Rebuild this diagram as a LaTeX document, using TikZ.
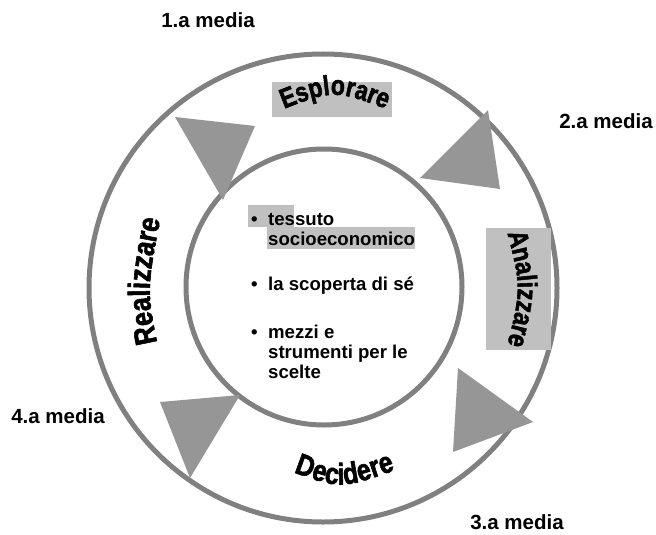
\documentclass[tikz,border=0pt]{standalone}
\usepackage{fontspec}
\setmainfont{Liberation Sans}
\newfontfamily\wafont[BoldFeatures={FakeBold=2}]{Liberation Sans}
\usetikzlibrary{decorations.text}
\definecolor{ringgray}{HTML}{808080}
\definecolor{trigray}{HTML}{969696}
\definecolor{boxgray}{HTML}{C0C0C0}
\begin{document}
\begin{tikzpicture}[x=1pt,y=-1pt,
  ring/.style={draw=ringgray, line width=5pt},
  tri/.style={fill=trigray},
  hl/.style={fill=boxgray},
  lbl/.style={font=\fontsize{20.5}{20.5}\selectfont\bfseries, inner sep=0, anchor=base},
  item/.style={font=\fontsize{18.6}{20}\selectfont\bfseries, inner sep=0, anchor=base west},
  wa/.style 2 args={decorate, decoration={text effects along path, text={#1}, text align=center,
     text effects/.cd, text along path,
     characters={font=\wafont\fontsize{#2}{#2}\selectfont\bfseries, yscale=1.2}}}
]
\useasboundingbox (0,0) rectangle (656,535);
% rings
\draw[ring] (323,288) circle (234);
\draw[ring] (324,287) circle (138);
% triangles
\fill[tri] (175,117) -- (255,126) -- (223,200) -- cycle;
\fill[tri] (488,110) -- (500,189) -- (420,178) -- cycle;
\fill[tri] (458,368) -- (533,422) -- (453,452) -- cycle;
\fill[tri] (160,402) -- (240,395) -- (190,478) -- cycle;
% grey boxes
\fill[hl] (272,82) rectangle (392,117);
\fill[hl] (486,228) rectangle (551,350);
\fill[hl] (248,205) rectangle (294,227);
\fill[hl] (267,227) rectangle (415,249);
% word art
\path[wa={Esplorare}{23}] (276,112) .. controls (334,89) .. (394,112);
\path[wa={Analizzare}{23}] (505,224) .. controls (522,288) .. (505,354);
\path[wa={Realizzare}{25.5}] (160,356) .. controls (146,290) .. (163,206);
\path[wa={Decidere}{25}] (285,469) .. controls (340,490) .. (404,467);
% labels
\node[lbl] (m1) at (208,28) {1.a media};
\node[lbl] (m2) at (606,128) {2.a media};
\node[lbl] (m3) at (517,529) {3.a media};
\node[lbl] (m4) at (58,423) {4.a media};
% bullets
\node[item] (b1) at (251,225) {\textbullet};
\node[item] (t1) at (268,225) {tessuto};
\node[item] (t2) at (268,245) {socioeconomico};
\node[item] (b2) at (251,290) {\textbullet};
\node[item] (t3) at (268,290) {la scoperta di sé};
\node[item] (b3) at (251,338) {\textbullet};
\node[item] (t4) at (268,338) {mezzi e};
\node[item] (t5) at (268,358) {strumenti per le};
\node[item] (t6) at (268,378) {scelte};
\end{tikzpicture}
\end{document}
